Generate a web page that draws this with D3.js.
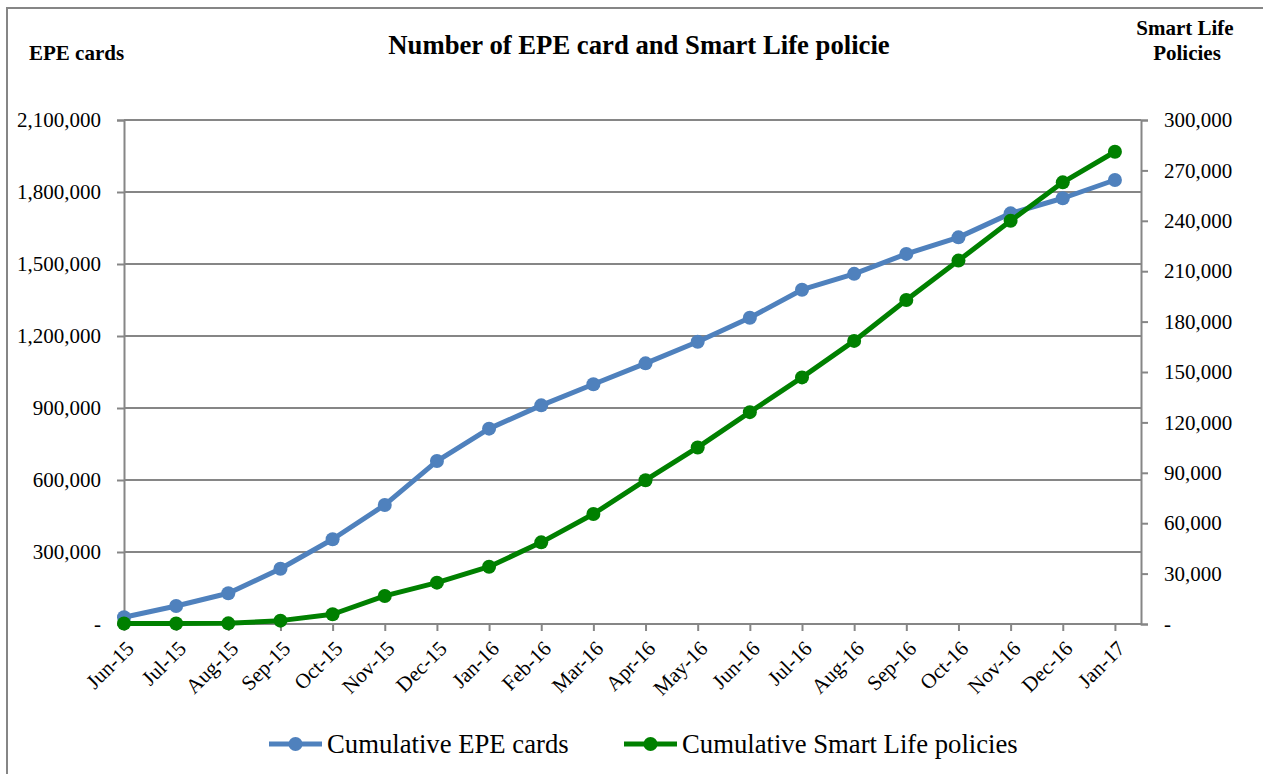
<!DOCTYPE html>
<meta charset="utf-8">
<style>
body { margin: 0; background: #fff; }
svg { font-family: "Liberation Serif", "Times New Roman", serif; }
.grid line { stroke: #868686; stroke-width: 2; }
.axis { font-family: "Liberation Serif", "Times New Roman", serif; }
.axis path, .axis line { stroke: #868686; stroke-width: 2; }
.axis text { fill: #000; font-size: 21px; }
</style>
<svg width="1263" height="774"></svg>
<script src="https://cdn.jsdelivr.net/npm/d3@7"></script>
<script>

// data
var months = ["Jun-15","Jul-15","Aug-15","Sep-15","Oct-15","Nov-15","Dec-15","Jan-16","Feb-16","Mar-16",
              "Apr-16","May-16","Jun-16","Jul-16","Aug-16","Sep-16","Oct-16","Nov-16","Dec-16","Jan-17"];
var epeCards = [28000, 75000, 128000, 230000, 353000, 496000, 679000, 814000, 911000, 999000,
                1086000, 1176000, 1276000, 1393000, 1459000, 1542000, 1611000, 1711000, 1774000, 1850000];
var smartLife = [300, 300, 400, 2000, 5800, 16700, 24600, 34100, 48600, 65500,
                 85600, 105100, 126100, 146800, 168500, 192900, 216300, 240000, 262900, 281100];
var leftTicks = [0, 300000, 600000, 900000, 1200000, 1500000, 1800000, 2100000];
var rightTicks = [0, 30000, 60000, 90000, 120000, 150000, 180000, 210000, 240000, 270000, 300000];
var seriesNames = ["Cumulative EPE cards", "Cumulative Smart Life policies"];
var colors = ["#4f81bd", "#008000"];

var svg = d3.select("svg"),
    margin = {top: 120, left: 124, right: 122, bottom: 150},
    width = +svg.attr("width") - margin.left - margin.right,
    height = +svg.attr("height") - margin.top - margin.bottom;

// outer frame (runs off the right and bottom edge)
svg.append("rect")
    .attr("x", 7).attr("y", 8)
    .attr("width", 1300).attr("height", 800)
    .attr("fill", "none")
    .attr("stroke", "#868686")
    .attr("stroke-width", 2);

var x = d3.scalePoint()
    .domain(months)
    .range([0, width])
    .padding(0.25)
    .align(0);

var yL = d3.scaleLinear().domain([0, 2100000]).range([height, 0]);
var yR = d3.scaleLinear().domain([0, 300000]).range([height, 0]);

var fmt = function(d) { return d === 0 ? "-" : d3.format(",")(d); };

var g = svg.append("g").attr("transform", "translate(" + margin.left + "," + margin.top + ")");

g.append("g")
    .attr("class", "grid")
  .selectAll("line")
    .data(leftTicks.slice(1))
  .enter().append("line")
    .attr("x1", 0).attr("x2", width)
    .attr("y1", function(d) { return yL(d); })
    .attr("y2", function(d) { return yL(d); });

g.append("g")
    .attr("class", "axis")
    .call(d3.axisLeft(yL).tickValues(leftTicks).tickFormat(fmt).tickSize(7).tickPadding(16));

g.append("g")
    .attr("class", "axis")
    .attr("transform", "translate(" + width + ",0)")
    .call(d3.axisRight(yR).tickValues(rightTicks).tickFormat(fmt).tickSize(7).tickPadding(16));

var xAxis = g.append("g")
    .attr("class", "axis")
    .attr("transform", "translate(0," + height + ")")
    .call(d3.axisBottom(x).tickSize(7).tickSizeOuter(0));

xAxis.selectAll("text")
    .attr("text-anchor", "end")
    .attr("transform", "translate(-3,9) rotate(-45)")
    .attr("dx", "-0.1em")
    .attr("dy", "0.55em");

// extend the axis line to the right edge of the plot
xAxis.select(".domain").attr("d", "M0,0H" + width);

var lines = [epeCards, smartLife];
var scales = [yL, yR];

lines.forEach(function(vals, i) {
  var line = d3.line()
      .x(function(d, j) { return x(months[j]); })
      .y(function(d) { return scales[i](d); });

  var s = g.append("g");
  s.append("path")
      .datum(vals)
      .attr("fill", "none")
      .attr("stroke", colors[i])
      .attr("stroke-width", 5)
      .attr("stroke-linejoin", "round")
      .attr("d", line);

  s.selectAll("circle")
      .data(vals)
    .enter().append("circle")
      .attr("cx", function(d, j) { return x(months[j]); })
      .attr("cy", function(d) { return scales[i](d); })
      .attr("r", 7)
      .attr("fill", colors[i]);
});

// titles
svg.append("text")
    .attr("x", 639).attr("y", 54)
    .attr("text-anchor", "middle")
    .style("font-weight", "bold").style("font-size", "26.7px")
    .text("Number of EPE card and Smart Life policie");

svg.append("text")
    .attr("x", 29).attr("y", 60)
    .style("font-weight", "bold").style("font-size", "21px")
    .text("EPE cards");

var rt = svg.append("text")
    .attr("text-anchor", "middle")
    .style("font-weight", "bold").style("font-size", "21px");
rt.append("tspan").attr("x", 1185).attr("y", 35).text("Smart Life");
rt.append("tspan").attr("x", 1187).attr("y", 60).text("Policies");

// legend
var legendX = [269, 624];
seriesNames.forEach(function(name, i) {
  var lg = svg.append("g").attr("transform", "translate(" + legendX[i] + ",744)");
  lg.append("line")
      .attr("x1", 0).attr("x2", 53)
      .attr("stroke", colors[i]).attr("stroke-width", 5);
  lg.append("circle").attr("cx", 26.5).attr("r", 7).attr("fill", colors[i]);
  lg.append("text")
      .attr("x", 58).attr("y", 9)
      .style("font-size", "26.7px")
      .text(name);
});

</script>
